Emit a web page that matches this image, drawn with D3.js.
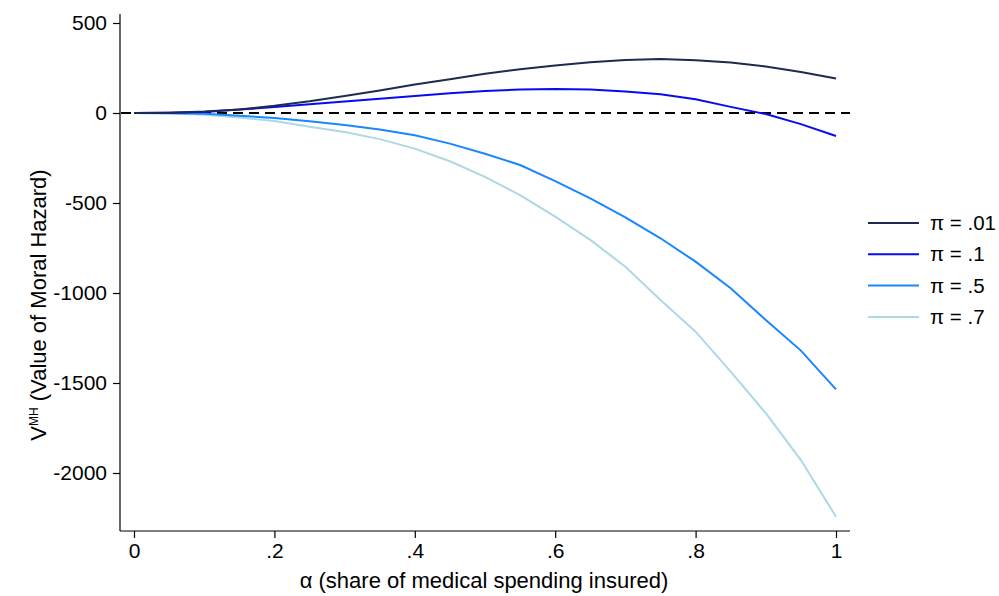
<!DOCTYPE html>
<html><head><meta charset="utf-8">
<script src="https://cdn.jsdelivr.net/npm/d3@7"></script>
<style>body{margin:0;background:#fff}svg{display:block;font-family:Arial,"Liberation Sans",sans-serif}</style>
</head><body><svg id="c" width="999" height="596"></svg>
<script>
const alpha = [0,.05,.1,.15,.2,.25,.3,.35,.4,.45,.5,.55,.6,.65,.7,.75,.8,.85,.9,.95,1];
const pi01 = [0,2,8,20,40,65,95,125,158,188,218,243,264,282,295,300,293,280,258,228,192];
const pi1  = [0,1,6,19,33,49,64,79,95,110,122,130,133,130,120,104,76,34,-6,-62,-128];
const pi5  = [0,-1,-4,-15,-28,-46,-67,-92,-124,-170,-226,-289,-378,-474,-580,-696,-826,-974,-1150,-1320,-1535];
const pi7  = [0,-2,-10,-25,-45,-76,-105,-145,-198,-268,-355,-456,-576,-705,-854,-1039,-1215,-1437,-1668,-1928,-2243];
const seriesNames = ["\u03c0 = .01","\u03c0 = .1","\u03c0 = .5","\u03c0 = .7"];
const seriesColors = ["#1c2b4f","#0a0af0","#1a86ff","#add8e6"];
const xTicks = [0,.2,.4,.6,.8,1];
const xTickLabels = ["0",".2",".4",".6",".8","1"];
const yTicks = [500,0,-500,-1000,-1500,-2000];

const svg = d3.select("#c");
const x = d3.scaleLinear().domain([0,1]).range([134,836]);
const y = d3.scaleLinear().domain([0,-500]).range([113,203]);
const axisX0 = 120, axisY0 = 531;
const FF = "Arial, 'Liberation Sans', sans-serif";

// axes
const gx = svg.append("g").attr("transform",`translate(0,${axisY0})`)
  .call(d3.axisBottom(x).tickValues(xTicks).tickFormat((d,i)=>xTickLabels[i]).tickSize(7).tickPadding(5));
gx.select(".domain").attr("d",`M${axisX0},0H850`);
const gy = svg.append("g").attr("transform",`translate(${axisX0},0)`)
  .call(d3.axisLeft(y).tickValues(yTicks).tickFormat(d=>String(d)).tickSize(7).tickPadding(6));
gy.select(".domain").attr("d",`M0,14V${axisY0}`);
svg.selectAll(".tick text").attr("font-size",21).attr("fill","#000").attr("font-family",FF);
svg.selectAll(".tick line, .domain").attr("stroke","#000").attr("stroke-width",1.2);

// zero line
svg.append("line").attr("x1",axisX0+1).attr("x2",850).attr("y1",y(0)).attr("y2",y(0))
  .attr("stroke","#000").attr("stroke-width",1.8).attr("stroke-dasharray","10,6");

const all = [pi01,pi1,pi5,pi7];
const line = d3.line().x((d,i)=>x(alpha[i])).y(d=>y(d));
[3,2,1,0].forEach(k=>{
  svg.append("path").datum(all[k]).attr("d",line).attr("fill","none")
    .attr("stroke",seriesColors[k]).attr("stroke-width",2);
});

// legend
const lg = svg.append("g");
seriesNames.forEach((n,i)=>{
  const yy = 223 + i*31.3;
  lg.append("line").attr("x1",868).attr("x2",919).attr("y1",yy).attr("y2",yy)
    .attr("stroke",seriesColors[i]).attr("stroke-width",2);
  lg.append("text").attr("x",930).attr("y",yy+7).attr("font-size",20.5).attr("font-family",FF).text(n);
});

// axis titles
svg.append("text").attr("x",484).attr("y",588).attr("text-anchor","middle").attr("font-size",22).attr("font-family",FF)
  .text("\u03b1 (share of medical spending insured)");
const yt = svg.append("text").attr("transform","translate(46,305) rotate(-90)").attr("text-anchor","middle").attr("font-size",22).attr("font-family",FF);
yt.append("tspan").text("V");
yt.append("tspan").attr("font-size",12).attr("dy",-8).text("MH");
yt.append("tspan").attr("dy",8).text(" (Value of Moral Hazard)");
</script></body></html>
